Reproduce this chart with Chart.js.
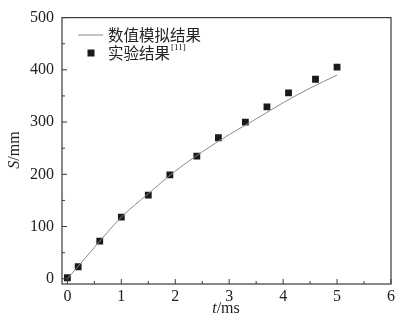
<!DOCTYPE html>
<html lang="zh">
<head>
<meta charset="UTF-8">
<title>S-t</title>
<script src="https://cdn.jsdelivr.net/npm/chart.js"></script>
<style>
  html, body { margin: 0; padding: 0; background: #fff; }
  #wrap { width: 410px; height: 320px; }
</style>
</head>
<body>
<div id="wrap"><canvas id="chart"></canvas></div>
<script>
// simulation curve (t in ms, S in mm)
const simT = [0, 0.5, 1, 1.5, 2, 2.5, 3, 3.5, 4, 4.5, 5];
const simS = [0, 60, 118, 163, 206, 243, 276, 306, 337, 365, 390];
// experiment points
const expT = [0, 0.2, 0.6, 1, 1.5, 1.9, 2.4, 2.8, 3.3, 3.7, 4.1, 4.6, 5];
const expS = [2, 23, 72, 118, 160, 199, 235, 270, 300, 329, 356, 382, 405];

const xTicks = [0, 1, 2, 3, 4, 5, 6];
const yTicks = [0, 100, 200, 300, 400, 500];
const xMinor = [0.5, 1.5, 2.5, 3.5, 4.5, 5.5];
const yMinor = [50, 150, 250, 350, 450];

const legendLabels = ['数值模拟结果', '实验结果'];
const legendRef = '[11]';

const serif = '"Liberation Serif", "DejaVu Serif", serif';
const cjk = '"Noto Sans CJK SC", sans-serif';
const axisColor = '#3a3a3a';

const decor = {
  id: 'decor',
  afterDraw(chart) {
    const ctx = chart.ctx;
    const a = chart.chartArea;
    const xs = chart.scales.x, ys = chart.scales.y;
    ctx.save();
    // frame
    ctx.strokeStyle = axisColor;
    ctx.lineWidth = 1.2;
    ctx.strokeRect(a.left, a.top, a.right - a.left, a.bottom - a.top);
    // inward ticks
    ctx.lineWidth = 1;
    ctx.beginPath();
    xTicks.forEach(v => { const p = xs.getPixelForValue(v); ctx.moveTo(p, a.bottom); ctx.lineTo(p, a.bottom - 5); });
    xMinor.forEach(v => { const p = xs.getPixelForValue(v); ctx.moveTo(p, a.bottom); ctx.lineTo(p, a.bottom - 3); });
    yTicks.forEach(v => { const p = ys.getPixelForValue(v); ctx.moveTo(a.left, p); ctx.lineTo(a.left + 5, p); });
    yMinor.forEach(v => { const p = ys.getPixelForValue(v); ctx.moveTo(a.left, p); ctx.lineTo(a.left + 3, p); });
    ctx.stroke();

    // axis titles
    ctx.fillStyle = '#222';
    ctx.textBaseline = 'middle';
    ctx.font = 'italic 16px ' + serif;
    const tW = ctx.measureText('t').width;
    ctx.font = '16px ' + serif;
    const msW = ctx.measureText('/ms').width;
    let x0 = 226 - (tW + msW) / 2;
    ctx.textAlign = 'left';
    ctx.font = 'italic 16px ' + serif;
    ctx.fillText('t', x0, 309);
    ctx.font = '16px ' + serif;
    ctx.fillText('/ms', x0 + tW, 309);

    ctx.save();
    ctx.translate(15, 150);
    ctx.rotate(-Math.PI / 2);
    ctx.font = 'italic 16px ' + serif;
    const sW = ctx.measureText('S').width;
    ctx.font = '16px ' + serif;
    const mmW = ctx.measureText('/mm').width;
    x0 = -(sW + mmW) / 2;
    ctx.font = 'italic 16px ' + serif;
    ctx.fillText('S', x0, 0);
    ctx.font = '16px ' + serif;
    ctx.fillText('/mm', x0 + sW, 0);
    ctx.restore();

    // legend
    ctx.strokeStyle = '#8a8a8a';
    ctx.lineWidth = 1;
    ctx.beginPath();
    ctx.moveTo(78, 35); ctx.lineTo(103, 35);
    ctx.stroke();
    ctx.fillStyle = '#1a1a1a';
    ctx.fillRect(87.5, 49.5, 7, 7);
    ctx.fillStyle = '#222';
    ctx.font = '15.5px ' + cjk;
    ctx.fillText(legendLabels[0], 108, 35);
    ctx.fillText(legendLabels[1], 108, 53);
    const lw = ctx.measureText(legendLabels[1]).width;
    ctx.font = '9px ' + serif;
    ctx.fillText(legendRef, 108 + lw + 1, 48);
    ctx.restore();
  }
};

new Chart(document.getElementById('chart'), {
  type: 'scatter',
  data: {
    datasets: [{
      type: 'line',
      label: legendLabels[0],
      data: simT.map((t, i) => ({ x: t, y: simS[i] })),
      borderColor: '#8a8a8a',
      borderWidth: 1,
      pointRadius: 0,
      cubicInterpolationMode: 'monotone',
      fill: false
    }, {
      label: legendLabels[1],
      data: expT.map((t, i) => ({ x: t, y: expS[i] })),
      pointStyle: 'rect',
      pointRadius: 4.8,
      backgroundColor: '#1a1a1a',
      borderColor: '#1a1a1a',
      borderWidth: 0
    }]
  },
  options: {
    responsive: true,
    maintainAspectRatio: false,
    animation: false,
    layout: { padding: { top: 17, right: 19, left: 0, bottom: 0 } },
    plugins: { legend: { display: false }, tooltip: { enabled: false } },
    scales: {
      x: {
        type: 'linear', min: -0.1, max: 6,
        afterBuildTicks: s => { s.ticks = xTicks.map(v => ({ value: v })); },
        afterFit: s => { s.height = 36; },
        grid: { display: false, drawTicks: false },
        border: { display: false },
        ticks: { color: '#222', padding: 3, font: { family: serif, size: 16 } }
      },
      y: {
        type: 'linear', min: -10, max: 500,
        afterBuildTicks: s => { s.ticks = yTicks.map(v => ({ value: v })); },
        afterFit: s => { s.width = 62; },
        grid: { display: false, drawTicks: false },
        border: { display: false },
        ticks: { color: '#222', padding: 8, font: { family: serif, size: 16 } }
      }
    }
  },
  plugins: [decor]
});
</script>
</body>
</html>
